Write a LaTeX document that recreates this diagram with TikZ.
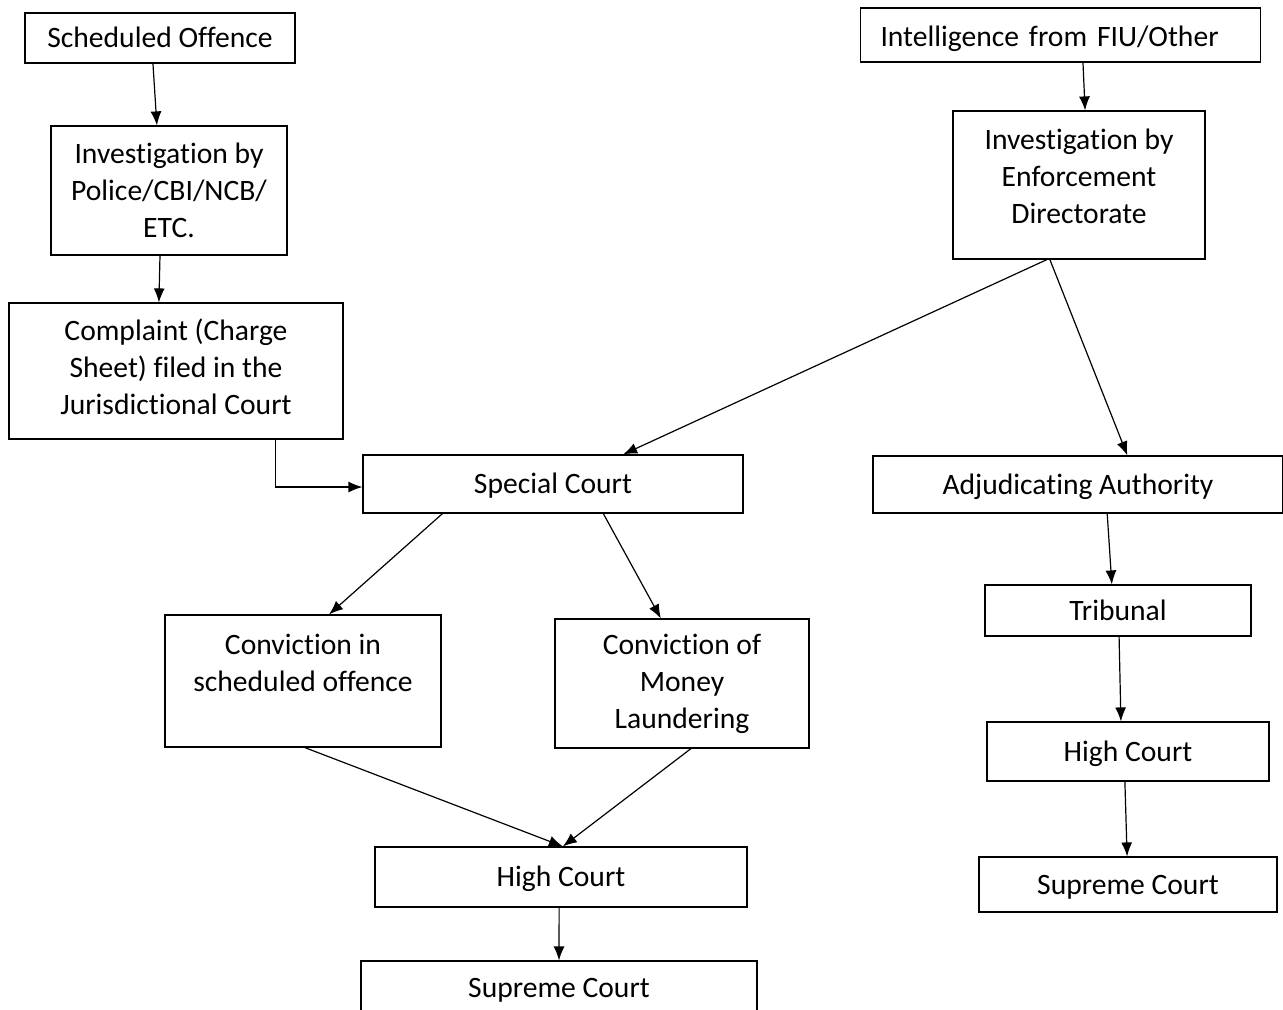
\documentclass[tikz,border=0pt]{standalone}
\usepackage{fontspec}
\setmainfont{Carlito}[Ligatures=NoCommon]
\usetikzlibrary{positioning, arrows.meta, calc}

\begin{document}
\begin{tikzpicture}
			[x=0.5pt, y=-0.5pt, font=\fontsize{14.8}{18.5}\selectfont, line width=0.6pt]
			
			\tikzstyle{box} = [rectangle, draw=black, align=center, inner sep=2pt]
			
			\tikzstyle{onebox} = [box, text height=12.5pt, text depth=3pt]
			
			\tikzstyle{arrow} = [->,>={Latex[length=7pt,width=5.5pt]}]
			
			\clip (0,0) rectangle (1283,1009);
			
			\node (sched) [onebox, minimum width=135pt, minimum height=25pt] at (160,38) {Scheduled Offence};
			\node (intel) [onebox, text width=180pt, inner xsep=10pt, align=left, minimum height=27pt, text height=13.5pt, text depth=2pt] at (1060.5,35) {Intelligence from FIU/Other};
			\node (invpol) [box, minimum width=118pt, minimum height=64.5pt] at (169,190.5) {Investigation by\\Police/CBI/NCB/\\ETC.};
			\node (inved) [box, minimum width=126pt, minimum height=74pt] at (1079,185) {Investigation by\\Enforcement\\Directorate\\[-9.5pt]\mbox{}};
			\node (compl) [box, minimum width=167pt, minimum height=68pt] at (176,371) {Complaint (Charge\\Sheet) filed in the\\Jurisdictional Court\\[-14.5pt]\mbox{}};
			\node (special) [onebox, minimum width=190pt, minimum height=29pt] at (553,484) {Special Court};
			\node (adjud) [onebox, minimum width=205pt, minimum height=28.5pt] at (1078,484.5) {Adjudicating Authority};
			\node (convsch) [box, minimum width=138pt, minimum height=66pt] at (303,681) {Conviction in\\scheduled offence\\\mbox{}};
			\node (convml) [box, minimum width=127pt, minimum height=64.5pt] at (682,683.5) {Conviction of\\Money\\Laundering};
			\node (trib) [onebox, minimum width=133pt, minimum height=25.5pt] at (1118,610.5) {Tribunal};
			\node (hcr) [onebox, minimum width=141pt, minimum height=29.5pt] at (1128,751.5) {High Court};
			\node (scr) [onebox, minimum width=149pt, minimum height=27.5pt] at (1128,884.5) {Supreme Court};
			\node (hc) [onebox, minimum width=186pt, minimum height=30pt] at (561,877) {High Court};
			\node (sc) [onebox, minimum width=198pt, minimum height=27pt] at (559,988) {Supreme Court};
			
			\draw [arrow] ($(sched.south west)!0.474!(sched.south east)$) -- ($(invpol.north west)!0.449!(invpol.north east)$);
			\draw [arrow] ($(intel.south west)!0.556!(intel.south east)$) -- ($(inved.north west)!0.524!(inved.north east)$);
			\draw [arrow] ($(invpol.south west)!0.462!(invpol.south east)$) -- ($(compl.north west)!0.449!(compl.north east)$);
			\draw [arrow] ($(compl.south west)!0.796!(compl.south east)$) |- ([yshift=-1.5pt]special.west);
			\draw [arrow] ($(inved.south west)!0.373!(inved.south east)$) -- ($(special.north west)!0.684!(special.north east)$);
			\draw [arrow] ($(inved.south west)!0.385!(inved.south east)$) -- ($(adjud.north west)!0.62!(adjud.north east)$);
			\draw [arrow] ($(special.south west)!0.21!(special.south east)$) -- ($(convsch.north west)!0.594!(convsch.north east)$);
			\draw [arrow] ($(special.south west)!0.632!(special.south east)$) -- ($(convml.north west)!0.417!(convml.north east)$);
			\draw [arrow] ($(adjud.south west)!0.571!(adjud.south east)$) -- ($(trib.north west)!0.477!(trib.north east)$);
			\draw [arrow] ($(trib.south west)!0.504!(trib.south east)$) -- ($(hcr.north west)!0.475!(hcr.north east)$);
			\draw [arrow] ($(hcr.south west)!0.489!(hcr.south east)$) -- ($(scr.north west)!0.497!(scr.north east)$);
			\draw [arrow] ($(convsch.south west)!0.507!(convsch.south east)$) -- ($(hc.north west)!0.505!(hc.north east)$);
			\draw [arrow] ($(convml.south west)!0.535!(convml.south east)$) -- ($(hc.north west)!0.505!(hc.north east)$);
			\draw [arrow] ($(hc.south west)!0.495!(hc.south east)$) -- ($(sc.north west)!0.5!(sc.north east)$);
			
		\end{tikzpicture}
\end{document}
